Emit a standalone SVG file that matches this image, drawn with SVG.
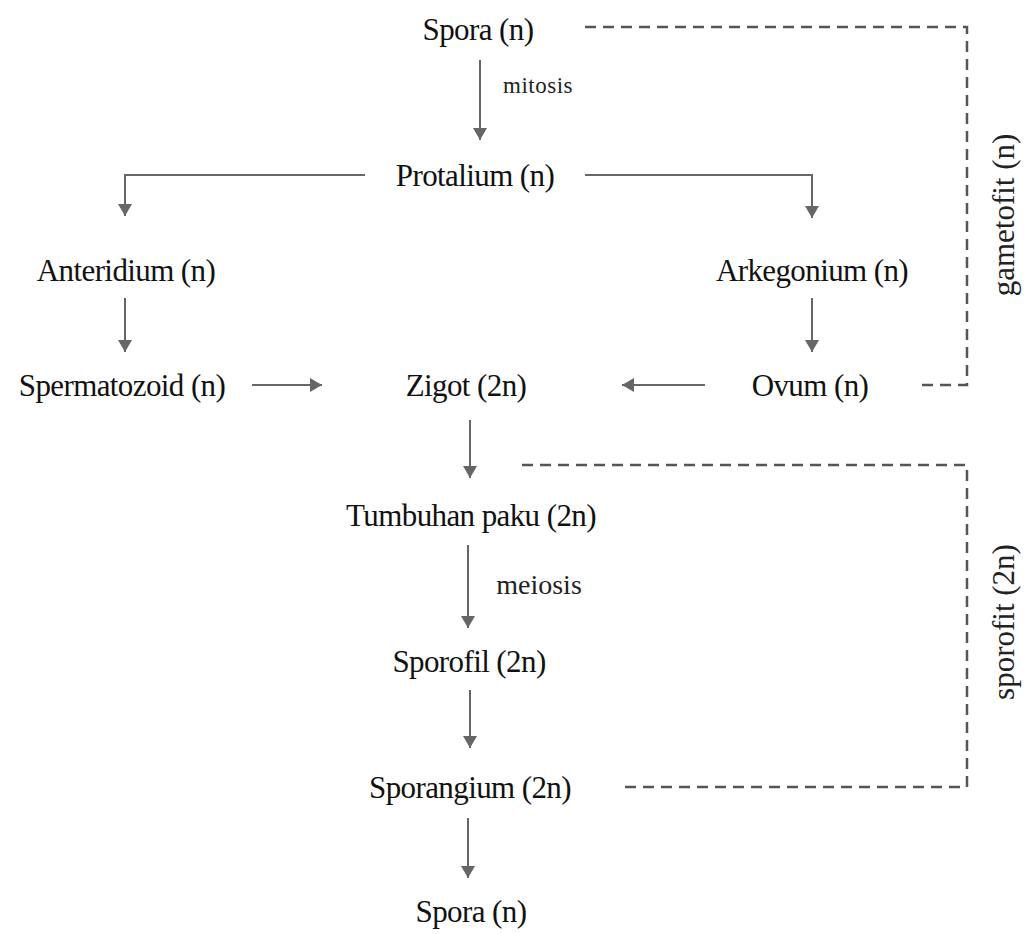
<svg xmlns="http://www.w3.org/2000/svg" width="1026" height="934" viewBox="0 0 1026 934">
<style>
.t{font-family:"Liberation Serif","DejaVu Serif",serif;font-size:31px;letter-spacing:-0.6px;fill:#111;text-anchor:middle}
.s{font-family:"Liberation Serif","DejaVu Serif",serif;fill:#222;text-anchor:middle}
.c{fill:none;stroke:#666;stroke-width:2}
.d{fill:none;stroke:#555;stroke-width:2.5;stroke-dasharray:11 7}
</style>
<defs>
<marker id="ah" viewBox="0 0 12 14" refX="12" refY="7" markerWidth="12" markerHeight="14" markerUnits="userSpaceOnUse" orient="auto">
<path d="M0,0 L12,7 L0,14 Z" fill="#666"/>
</marker>
</defs>
<rect width="1026" height="934" fill="#fff"/>
<g id="connectors">
<path class="c" d="M480,60 V140" marker-end="url(#ah)"/>
<path class="c" d="M365,175 H125 V216" marker-end="url(#ah)"/>
<path class="c" d="M585,175 H812 V218" marker-end="url(#ah)"/>
<path class="c" d="M125,298 V352" marker-end="url(#ah)"/>
<path class="c" d="M812,298 V352" marker-end="url(#ah)"/>
<path class="c" d="M252,385 H322" marker-end="url(#ah)"/>
<path class="c" d="M705,385 H622" marker-end="url(#ah)"/>
<path class="c" d="M470,420 V478" marker-end="url(#ah)"/>
<path class="c" d="M468,545 V628" marker-end="url(#ah)"/>
<path class="c" d="M470,690 V748" marker-end="url(#ah)"/>
<path class="c" d="M468,818 V878" marker-end="url(#ah)"/>
<path class="d" d="M585,27 H967 V385 H922"/>
<path class="d" d="M522,465 H967 V787 H620"/>
</g>
<g id="n-spora-top"><text class="t" x="478" y="40">Spora (n)</text></g>
<g id="l-mitosis"><text class="s" x="538" y="93" font-size="23" letter-spacing="0.5">mitosis</text></g>
<g id="n-protalium"><text class="t" x="475" y="186">Protalium (n)</text></g>
<g id="n-anteridium"><text class="t" x="126" y="281">Anteridium (n)</text></g>
<g id="n-arkegonium"><text class="t" x="812" y="281">Arkegonium (n)</text></g>
<g id="n-spermatozoid"><text class="t" x="122" y="396">Spermatozoid (n)</text></g>
<g id="n-zigot"><text class="t" x="466" y="396">Zigot (2n)</text></g>
<g id="n-ovum"><text class="t" x="810" y="396">Ovum (n)</text></g>
<g id="n-tumbuhan"><text class="t" x="471" y="526">Tumbuhan paku (2n)</text></g>
<g id="l-meiosis"><text class="s" x="539" y="594" font-size="28">meiosis</text></g>
<g id="n-sporofil"><text class="t" x="469" y="672">Sporofil (2n)</text></g>
<g id="n-sporangium"><text class="t" x="470" y="798">Sporangium (2n)</text></g>
<g id="n-spora-bottom"><text class="t" x="471" y="922">Spora (n)</text></g>
<g id="l-gametofit"><text class="s" font-size="31" transform="translate(1014,215) rotate(-90)">gametofit (n)</text></g>
<g id="l-sporofit"><text class="s" font-size="31" transform="translate(1014,622) rotate(-90)">sporofit (2n)</text></g>
</svg>
